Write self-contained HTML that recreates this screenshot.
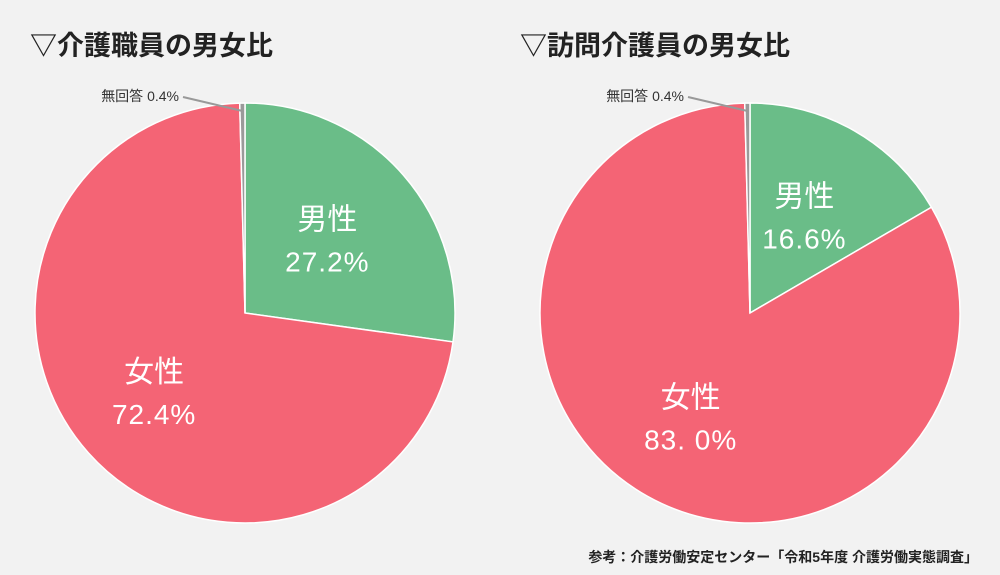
<!DOCTYPE html>
<html><head><meta charset="utf-8"><style>
body{margin:0;background:#f2f2f2;}
svg{display:block;font-family:"Liberation Sans","Noto Sans CJK JP",sans-serif;}
</style></head><body>
<svg id="c" width="1000" height="575" viewBox="0 0 1000 575">
<rect width="1000" height="575" fill="#f2f2f2"/>
<text x="30" y="55" font-size="27" font-weight="bold" fill="#222">▽介護職員の男女比</text>
<text x="520" y="55" font-size="27" font-weight="bold" fill="#222">▽訪問介護員の男女比</text>
<text x="978" y="562" font-size="14" font-weight="bold" fill="#222" text-anchor="end">参考：介護労働安定センター「令和5年度 介護労働実態調査」</text>
<g id="pies"></g>
</svg>
<script>
const categories = ["男性", "女性", "無回答"];
const staffValues = [27.2, 72.4, 0.4];
const visitValues = [16.6, 83.0, 0.4];
const staffLabels = ["27.2%", "72.4%", "0.4%"];
const visitLabels = ["16.6%", "83. 0%", "0.4%"];
const colors = ["#6abd88", "#f46475", "#9a9a9a"];
const NS = "http://www.w3.org/2000/svg";
const g = document.getElementById("pies");
function mk(t, a){const e=document.createElementNS(NS,t);for(const k in a)e.setAttribute(k,a[k]);return e;}
function pt(cx,cy,r,frac){const a=frac*2*Math.PI;return [cx+r*Math.sin(a),cy-r*Math.cos(a)];}
function pie(cx,cy,r,vals,labels,key){
  const tot=vals.reduce((a,b)=>a+b,0);let acc=0;
  vals.forEach((v,i)=>{
    const f0=acc/tot,f1=(acc+v)/tot;acc+=v;
    const p0=pt(cx,cy,r,f0),p1=pt(cx,cy,r,f1);
    const large=(f1-f0)>0.5?1:0;
    const p=mk("path",{d:`M${cx},${cy}L${p0[0]},${p0[1]}A${r},${r} 0 ${large} 1 ${p1[0]},${p1[1]}Z`,fill:colors[i],stroke:"#fff","stroke-width":1.5});
    
    
    g.appendChild(p);
    const mid=(f0+f1)/2;
    if(i<2){
      const lr=i===0?r*0.52:r*0.58;
      const c=pt(cx,cy,lr,mid);
      const t1=mk("text",{x:c[0],y:c[1]-12,"font-size":30,fill:"#fff","text-anchor":"middle"});
      t1.textContent=categories[i];
      
      
      g.appendChild(t1);
      const t2=mk("text",{x:c[0],y:c[1]+30,"font-size":28,fill:"#fff","text-anchor":"middle","letter-spacing":"1"});
      t2.textContent=labels[i];
      
      
      g.appendChild(t2);
    } else {
      const e=pt(cx,cy,r-8,mid);
      const ln=mk("line",{x1:cx-62,y1:97,x2:e[0],y2:e[1],stroke:"#999","stroke-width":2});
      
      
      g.appendChild(ln);
      const t=mk("text",{x:cx-66,y:101,"font-size":14,fill:"#333","text-anchor":"end"});
      t.textContent=categories[i]+" "+labels[i];
      
      
      g.appendChild(t);
    }
  });
}
pie(245,313,210,staffValues,staffLabels,"staff");
pie(750,313,210,visitValues,visitLabels,"visit");
</script>
</body></html>
